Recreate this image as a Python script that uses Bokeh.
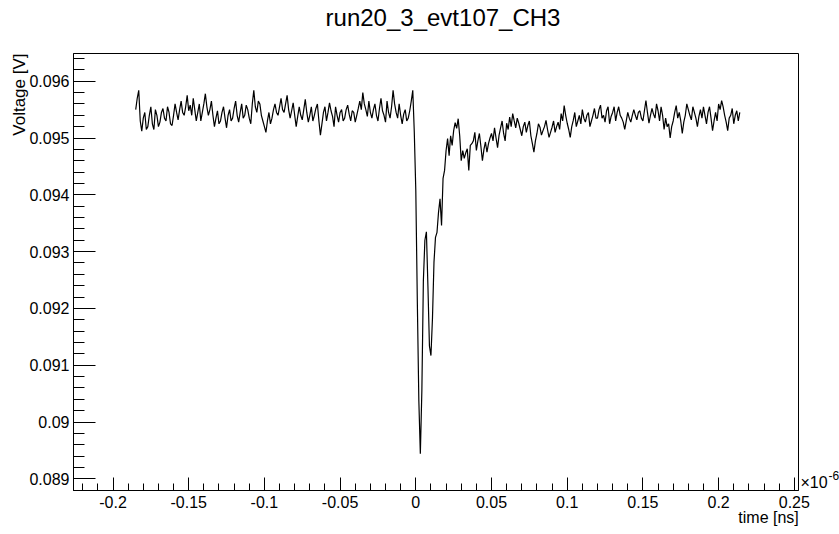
import numpy as np
from math import pi
from bokeh.plotting import figure
from bokeh.models import Range1d, FixedTicker, Label, CustomJSTickFormatter
from bokeh.embed import file_html
from bokeh.resources import INLINE

TITLE = "run20_3_evt107_CH3"
X_TITLE = "time [ns]"
Y_TITLE = "Voltage [V]"
X_EXPONENT = "\u00d710"
X_EXPONENT_POWER = "-6"

# Waveform samples (time in units of 1e-6, voltage in V), three segments of constant step
seg1_start, seg1_step = -0.185, 0.001
seg1_volts = [
    0.09550, 0.09570, 0.09584, 0.09530, 0.09512, 0.09535, 0.09545, 0.09515, 0.09520, 0.09540,
    0.09555, 0.09525, 0.09515, 0.09550, 0.09540, 0.09520, 0.09528, 0.09545, 0.09552, 0.09535,
    0.09530, 0.09555, 0.09545, 0.09525, 0.09522, 0.09540, 0.09560, 0.09545, 0.09532, 0.09550,
    0.09565, 0.09545, 0.09540, 0.09555, 0.09575, 0.09548, 0.09558, 0.09540, 0.09570, 0.09550,
    0.09530, 0.09545, 0.09560, 0.09530, 0.09545, 0.09560, 0.09578, 0.09555, 0.09540, 0.09550,
    0.09565, 0.09540, 0.09520, 0.09535, 0.09548, 0.09525, 0.09530, 0.09545, 0.09555, 0.09535,
    0.09518, 0.09540, 0.09550, 0.09530, 0.09535, 0.09552, 0.09565, 0.09540, 0.09528, 0.09545,
    0.09560, 0.09535, 0.09540, 0.09558, 0.09550, 0.09535, 0.09525, 0.09560, 0.09584, 0.09555,
    0.09545, 0.09565, 0.09560, 0.09540, 0.09530, 0.09520, 0.09510, 0.09530, 0.09545, 0.09525,
    0.09535, 0.09550, 0.09560, 0.09545, 0.09540, 0.09555, 0.09570, 0.09550, 0.09545, 0.09560,
    0.09575, 0.09550, 0.09535, 0.09548, 0.09562, 0.09540, 0.09520, 0.09538, 0.09555, 0.09540,
    0.09532, 0.09550, 0.09568, 0.09545, 0.09528, 0.09540, 0.09555, 0.09530, 0.09540, 0.09552,
    0.09560, 0.09530, 0.09505, 0.09525, 0.09545, 0.09555, 0.09530, 0.09545, 0.09562, 0.09548,
    0.09538, 0.09520, 0.09555, 0.09540, 0.09528, 0.09545, 0.09550, 0.09530, 0.09535, 0.09550,
    0.09558, 0.09542, 0.09530, 0.09548, 0.09545, 0.09528, 0.09540, 0.09552, 0.09565, 0.09550,
    0.09580, 0.09560, 0.09550, 0.09538, 0.09565, 0.09545, 0.09535, 0.09550, 0.09560, 0.09540,
    0.09530, 0.09552, 0.09570, 0.09548, 0.09540, 0.09528, 0.09565, 0.09545, 0.09535, 0.09555,
    0.09584, 0.09560, 0.09545, 0.09535, 0.09560, 0.09540, 0.09525, 0.09542, 0.09550, 0.09530,
    0.09535, 0.09548, 0.09565,
]

seg2_start, seg2_step = -0.002, 0.001
seg2_volts = [
    0.09584, 0.09510, 0.09407, 0.09213, 0.09038, 0.08944, 0.09055, 0.09249, 0.09320, 0.09335,
    0.09240, 0.09134, 0.09117, 0.09182, 0.09281, 0.09325, 0.09334, 0.09369, 0.09393, 0.09346,
    0.09429, 0.09443, 0.09478, 0.09499, 0.09469, 0.09504, 0.09487, 0.09513, 0.09527, 0.09517,
    0.09534, 0.09504, 0.09460, 0.09478, 0.09464, 0.09474, 0.09481, 0.09443, 0.09487, 0.09490,
    0.09495, 0.09510, 0.09478,
]

seg3_start, seg3_step = 0.041, 0.001
seg3_volts = [
    0.09495, 0.09508, 0.09485, 0.09460, 0.09480, 0.09493, 0.09475, 0.09490, 0.09500, 0.09508,
    0.09495, 0.09518, 0.09500, 0.09483, 0.09505, 0.09518, 0.09530, 0.09508, 0.09495, 0.09526,
    0.09515, 0.09537, 0.09520, 0.09543, 0.09530, 0.09518, 0.09535, 0.09526, 0.09515, 0.09504,
    0.09520, 0.09528, 0.09510, 0.09522, 0.09530, 0.09504, 0.09490, 0.09475, 0.09495, 0.09508,
    0.09525, 0.09519, 0.09505, 0.09513, 0.09520, 0.09531, 0.09515, 0.09501, 0.09510, 0.09519,
    0.09530, 0.09510, 0.09520, 0.09528, 0.09515, 0.09543, 0.09530, 0.09557, 0.09540, 0.09526,
    0.09515, 0.09501, 0.09520, 0.09531, 0.09545, 0.09520, 0.09530, 0.09540, 0.09525, 0.09550,
    0.09535, 0.09528, 0.09540, 0.09545, 0.09520, 0.09530, 0.09540, 0.09552, 0.09535, 0.09535,
    0.09550, 0.09558, 0.09535, 0.09540, 0.09528, 0.09548, 0.09555, 0.09525, 0.09538, 0.09545,
    0.09555, 0.09530, 0.09545, 0.09555, 0.09540, 0.09535, 0.09528, 0.09515, 0.09530, 0.09545,
    0.09535, 0.09528, 0.09540, 0.09550, 0.09540, 0.09532, 0.09545, 0.09548, 0.09535, 0.09530,
    0.09548, 0.09566, 0.09545, 0.09526, 0.09540, 0.09552, 0.09542, 0.09535, 0.09560, 0.09548,
    0.09530, 0.09555, 0.09540, 0.09515, 0.09535, 0.09520, 0.09525, 0.09500, 0.09520, 0.09530,
    0.09545, 0.09557, 0.09535, 0.09545, 0.09530, 0.09508, 0.09528, 0.09540, 0.09560, 0.09550,
    0.09540, 0.09532, 0.09555, 0.09545, 0.09535, 0.09520, 0.09538, 0.09550, 0.09535, 0.09555,
    0.09540, 0.09525, 0.09545, 0.09555, 0.09535, 0.09513, 0.09530, 0.09545, 0.09530, 0.09560,
    0.09550, 0.09566, 0.09555, 0.09540, 0.09528, 0.09513, 0.09535, 0.09540, 0.09552, 0.09525,
    0.09540, 0.09548, 0.09530, 0.09545,
]

x_major_ticks = [-0.2, -0.15, -0.1, -0.05, 0.0, 0.05, 0.1, 0.15, 0.2, 0.25]
y_major_ticks = [0.089, 0.090, 0.091, 0.092, 0.093, 0.094, 0.095, 0.096]


def segment_times(start, step, values):
    return np.round(start + step * np.arange(len(values)), 4)


times = np.concatenate([
    segment_times(seg1_start, seg1_step, seg1_volts),
    segment_times(seg2_start, seg2_step, seg2_volts),
    segment_times(seg3_start, seg3_step, seg3_volts),
])
volts = np.array(seg1_volts + seg2_volts + seg3_volts)

FONT = "Liberation Sans"

p = figure(
    width=839, height=534,
    output_backend="svg", toolbar_location=None, tools="",
    title_location=None,
    x_range=Range1d(-0.22609, 0.25277),
    y_range=Range1d(0.088794, 0.096488),
    min_border_left=73, min_border_right=41, min_border_top=53, min_border_bottom=44,
    background_fill_color="white", border_fill_color="white",
)
p.outline_line_color = "black"
p.outline_line_width = 1
p.xgrid.visible = False
p.ygrid.visible = False

p.line(times, volts, line_color="black", line_width=1.2)

x_minor = list(np.round(np.arange(-22, 26) * 0.01, 2))
y_minor = list(np.round(np.arange(444, 483) * 0.0002, 4))

fmt = CustomJSTickFormatter(code="return String(Number(tick.toFixed(4)));")

xa = p.xaxis[0]
xa.ticker = FixedTicker(ticks=x_major_ticks, minor_ticks=x_minor)
xa.formatter = fmt
xa.major_tick_in = 13
xa.major_tick_out = 0
xa.minor_tick_in = 7
xa.minor_tick_out = 0
xa.axis_line_color = "black"
xa.major_tick_line_color = "black"
xa.minor_tick_line_color = "black"
xa.major_label_text_font = FONT
xa.major_label_text_font_size = "16px"
xa.major_label_text_color = "black"
xa.major_label_standoff = 5

ya = p.yaxis[0]
ya.ticker = FixedTicker(ticks=y_major_ticks, minor_ticks=y_minor)
ya.formatter = fmt
ya.major_tick_in = 22
ya.major_tick_out = 0
ya.minor_tick_in = 11
ya.minor_tick_out = 0
ya.axis_line_color = "black"
ya.major_tick_line_color = "black"
ya.minor_tick_line_color = "black"
ya.major_label_text_font = FONT
ya.major_label_text_font_size = "16px"
ya.major_label_text_color = "black"
ya.major_label_standoff = 4

p.add_layout(Label(x=0.01797, y=0.097122, text=TITLE, text_font=FONT,
                   text_font_size="24px", text_align="center",
                   text_baseline="alphabetic", text_color="black"), "above")
p.add_layout(Label(x=0.25297, y=0.08832, text=X_TITLE, text_font=FONT,
                   text_font_size="16px", text_align="right",
                   text_baseline="alphabetic", text_color="black"), "below")
p.add_layout(Label(x=-0.26175, y=0.096488, text=Y_TITLE, text_font=FONT,
                   text_font_size="17px", text_align="right", angle=pi / 2,
                   text_baseline="alphabetic", text_color="black"), "left")
p.add_layout(Label(x=0.25410, y=0.08893, text=X_EXPONENT, text_font=FONT,
                   text_font_size="16px", text_align="left",
                   text_baseline="alphabetic", text_color="black"), "right")
p.add_layout(Label(x=0.27259, y=0.08905, text=X_EXPONENT_POWER, text_font=FONT,
                   text_font_size="12px", text_align="left",
                   text_baseline="alphabetic", text_color="black"), "right")

open("out.html", "w").write(file_html(p, INLINE))
